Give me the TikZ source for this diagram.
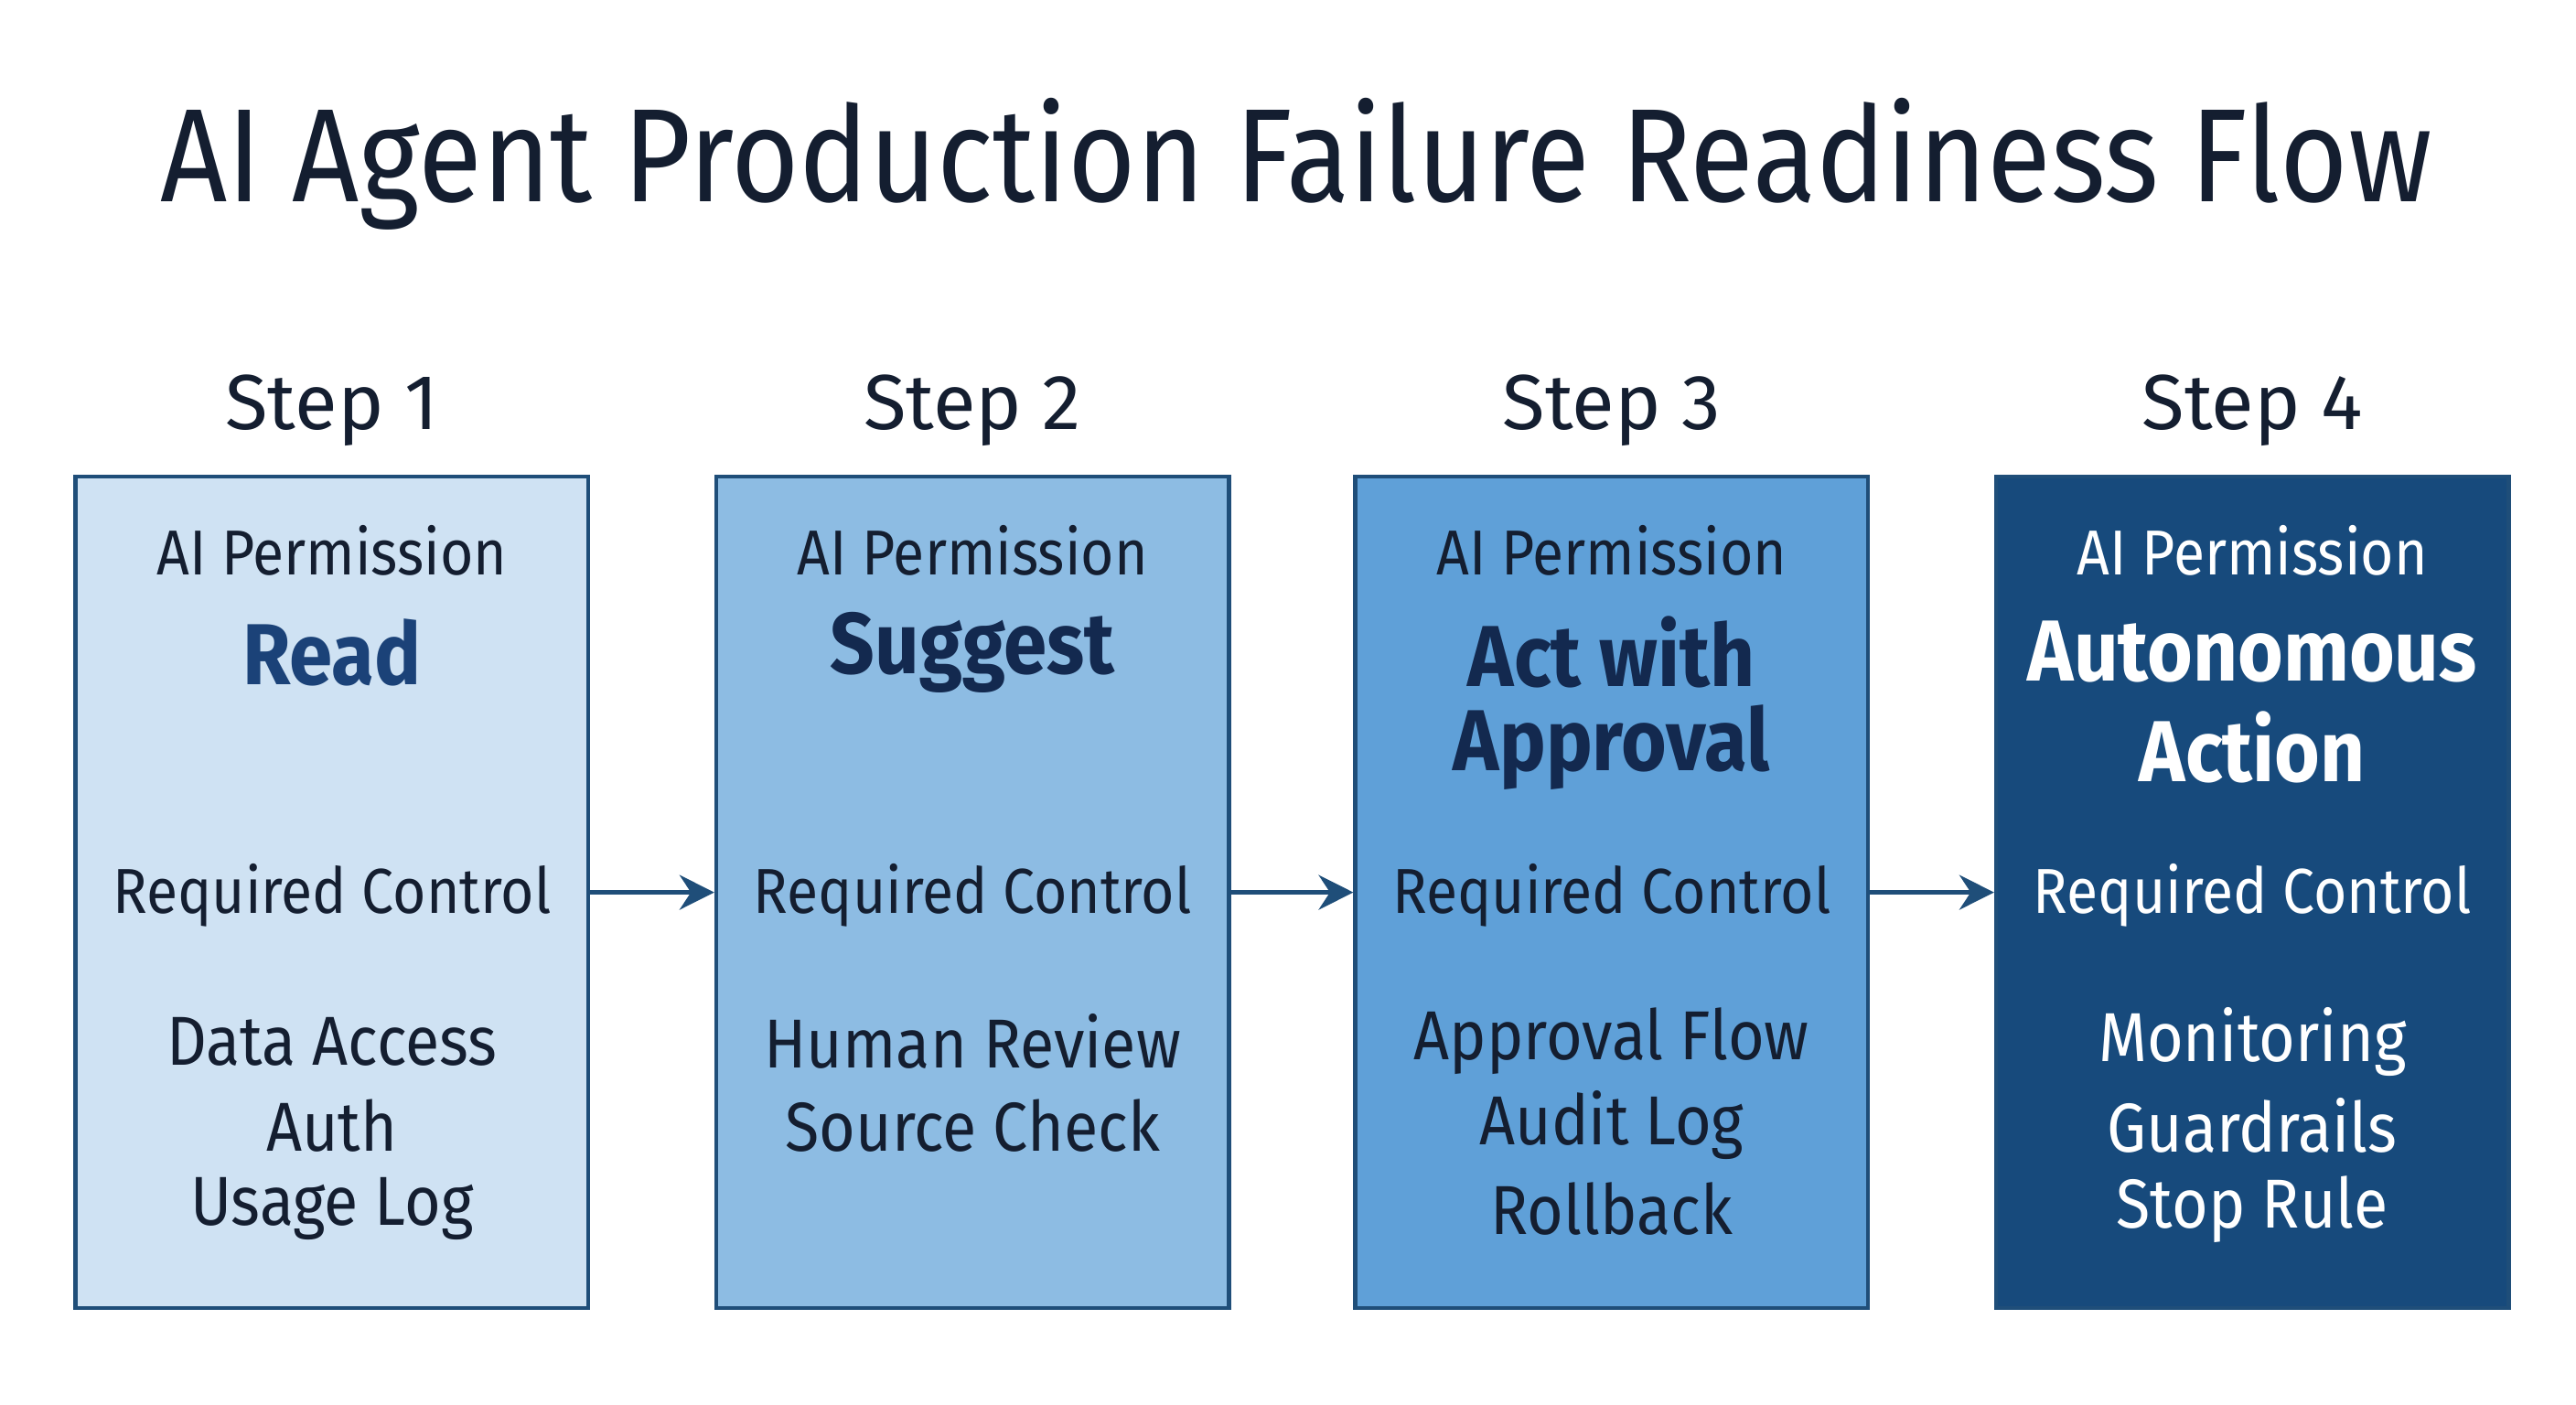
\documentclass[tikz,border=0pt]{standalone}
\usepackage{fontspec}
\setmainfont{Fira Sans}
\usetikzlibrary{positioning,calc,arrows.meta}
\definecolor{edge}{HTML}{1F4E79}
\definecolor{fillA}{HTML}{CFE2F3}
\definecolor{fillB}{HTML}{8DBCE3}
\definecolor{fillC}{HTML}{5FA0D8}
\definecolor{fillD}{HTML}{174A7C}
\definecolor{ink}{HTML}{141E30}
\definecolor{inkA}{HTML}{1B4278}
\definecolor{inkB}{HTML}{13294F}
\tikzset{
  stepbox/.style={draw=edge,line width=1.4pt,minimum width=6.24cm,minimum height=10.12cm,inner sep=0pt},
  steplabel/.style={font=\fontsize{27}{30}\selectfont,text=ink},
  permtext/.style={font=\fontsize{22}{26}\selectfont\addfontfeatures{FakeStretch=0.9}},
  bigtext/.style={font=\fontsize{30}{34}\selectfont\bfseries\addfontfeatures{FakeStretch=0.9}},
  listtext/.style={font=\fontsize{24}{28}\selectfont\addfontfeatures{FakeStretch=0.9}},
  flow/.style={-{Stealth[length=12pt,width=12pt]},draw=edge,line width=1.6pt}
}
\begin{document}
\begin{tikzpicture}
  \useasboundingbox (0,0) rectangle (31.36,-17.1);

  \node [font=\fontsize{46}{50}\selectfont\addfontfeatures{FakeStretch=0.88},text=ink] (title) at (15.78,-2.0) {AI Agent Production Failure Readiness Flow};

  % boxes
  \node [stepbox,fill=fillA,anchor=north] (b1) at (4.04,-5.78) {};
  \node [stepbox,fill=fillB,anchor=north] (b2) at (11.84,-5.78) {};
  \node [stepbox,fill=fillC,anchor=north] (b3) at (19.62,-5.78) {};
  \node [stepbox,fill=fillD,anchor=north] (b4) at (27.42,-5.78) {};

  \foreach \i in {1,2,3,4} {
    \node [steplabel] (s\i) at ($(b\i.north)+(0,0.78)$) {Step \i};
  }

  % box 1
  \node [permtext,text=ink] (p1) at ($(b1.north)+(0,-0.92)$) {AI Permission};
  \node [bigtext,text=inkA] (m1) at ($(b1.north)+(0,-2.16)$) {Read};
  \node [permtext,text=ink] (r1) at ($(b1.north)+(0,-5.12)$) {Required Control};
  \node [listtext,text=ink] (l1a) at ($(b1.north)+(0,-6.9)$) {Data Access};
  \node [listtext,text=ink] (l1b) at ($(b1.north)+(0,-7.92)$) {Auth};
  \node [listtext,text=ink] (l1c) at ($(b1.north)+(0,-8.94)$) {Usage Log};

  % box 2
  \node [permtext,text=ink] (p2) at ($(b2.north)+(0,-0.92)$) {AI Permission};
  \node [bigtext,text=inkB] (m2) at ($(b2.north)+(0,-2.16)$) {Suggest};
  \node [permtext,text=ink] (r2) at ($(b2.north)+(0,-5.12)$) {Required Control};
  \node [listtext,text=ink] (l2a) at ($(b2.north)+(0,-6.9)$) {Human Review};
  \node [listtext,text=ink] (l2b) at ($(b2.north)+(0,-7.92)$) {Source Check};

  % box 3
  \node [permtext,text=ink] (p3) at ($(b3.north)+(0,-0.92)$) {AI Permission};
  \node [bigtext,text=inkB] (m3) at ($(b3.north)+(0,-2.16)$) {Act with};
  \node [bigtext,text=inkB] (n3) at ($(b3.north)+(0,-3.32)$) {Approval};
  \node [permtext,text=ink] (r3) at ($(b3.north)+(0,-5.12)$) {Required Control};
  \node [listtext,text=ink] (l3a) at ($(b3.north)+(0,-6.9)$) {Approval Flow};
  \node [listtext,text=ink] (l3b) at ($(b3.north)+(0,-7.92)$) {Audit Log};
  \node [listtext,text=ink] (l3c) at ($(b3.north)+(0,-8.94)$) {Rollback};

  % box 4
  \node [permtext,text=white] (p4) at ($(b4.north)+(0,-0.92)$) {AI Permission};
  \node [bigtext,text=white] (m4) at ($(b4.north)+(0,-2.16)$) {Autonomous};
  \node [bigtext,text=white] (n4) at ($(b4.north)+(0,-3.32)$) {Action};
  \node [permtext,text=white] (r4) at ($(b4.north)+(0,-5.12)$) {Required Control};
  \node [listtext,text=white] (l4a) at ($(b4.north)+(0,-6.9)$) {Monitoring};
  \node [listtext,text=white] (l4b) at ($(b4.north)+(0,-7.92)$) {Guardrails};
  \node [listtext,text=white] (l4c) at ($(b4.north)+(0,-8.94)$) {Stop Rule};

  % arrows
  \draw [flow] (b1) -- (b2);
  \draw [flow] (b2) -- (b3);
  \draw [flow] (b3) -- (b4);
\end{tikzpicture}
\end{document}
